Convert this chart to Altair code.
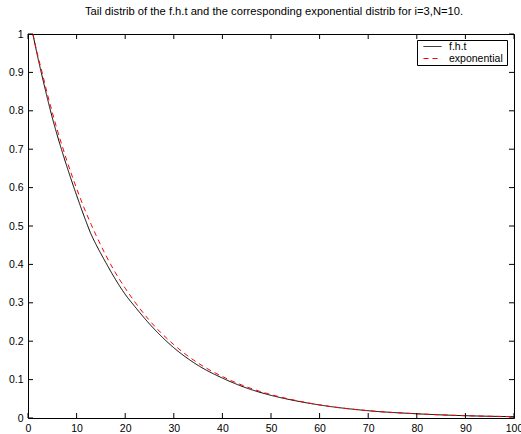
import altair as alt
import pandas as pd

# values
t_vals = [1, 2, 3, 4, 5, 6, 7, 8, 10, 12, 13, 14, 16, 18, 20, 22, 25, 30, 35, 40, 45, 50, 55, 60, 70, 80, 90, 100]
fht_vals = [1.0, 0.94, 0.885, 0.832, 0.782, 0.737, 0.695, 0.655, 0.58, 0.51, 0.478, 0.452, 0.405, 0.361,
            0.322, 0.29, 0.245, 0.183, 0.137, 0.104, 0.078, 0.059, 0.045, 0.034, 0.019, 0.011, 0.006, 0.0035]
exp_vals = [1.0, 0.945, 0.895, 0.843, 0.796, 0.751, 0.71, 0.67, 0.598, 0.533, 0.504, 0.476, 0.424, 0.378,
            0.338, 0.302, 0.254, 0.191, 0.143, 0.108, 0.081, 0.061, 0.046, 0.034, 0.019, 0.011, 0.006, 0.0035]
series_names = ["f.h.t", "exponential"]
x_ticks = [0, 10, 20, 30, 40, 50, 60, 70, 80, 90, 100]
y_ticks = [0, 0.1, 0.2, 0.3, 0.4, 0.5, 0.6, 0.7, 0.8, 0.9, 1]
title_text = "Tail distrib of the f.h.t and the corresponding exponential distrib for i=3,N=10."

W, H = 486, 384
FONT = "Liberation Sans"
FS = 10.5

rows = []
for t, a, b in zip(t_vals, fht_vals, exp_vals):
    rows.append({"x": t, "y": a, "series": series_names[0]})
    rows.append({"x": t, "y": b, "series": series_names[1]})
df = pd.DataFrame(rows)
xt = pd.DataFrame({"x": x_ticks})
yt = pd.DataFrame({"y": y_ticks})

xscale = alt.Scale(domain=[0, 100], nice=False, zero=False)
yscale = alt.Scale(domain=[0, 1], nice=False, zero=False)
xaxis = alt.Axis(values=x_ticks, ticks=False, domain=False, grid=False, labelFlush=False,
                 title=None, labelPadding=5, format="d")
yaxis = alt.Axis(values=y_ticks, ticks=False, domain=False, grid=False, labelFlush=False,
                 title=None, labelPadding=5,
                 labelExpr="datum.value == 0 ? '0' : datum.value == 1 ? '1' : format(datum.value, '.1f')")

leg = alt.Legend(title="\u00a0", titleOrient="right", titlePadding=3, titleFontSize=FS,
                 orient="none", legendX=389, legendY=6,
                 strokeColor="black", fillColor="white", padding=1,
                 symbolType="M-1.8,0H1.8", symbolSize=100, symbolStrokeWidth=1,
                 symbolStrokeColor=alt.ExprRef("scale('color', datum.value)"),
                 symbolOffset=9, labelFont=FONT, labelFontSize=FS, labelOffset=11,
                 rowPadding=1, offset=0)

lines = alt.Chart(df).mark_line(strokeWidth=1, interpolate="monotone").encode(
    x=alt.X("x:Q", scale=xscale, axis=xaxis),
    y=alt.Y("y:Q", scale=yscale, axis=yaxis),
    color=alt.Color("series:N", scale=alt.Scale(domain=series_names, range=["#000000", "#ff0000"]),
                    legend=leg),
    strokeDash=alt.StrokeDash("series:N", scale=alt.Scale(domain=series_names, range=[[1, 0], [5, 4]]),
                              legend=leg),
)

TL = 5
bottom_ticks = alt.Chart(xt).mark_rule(color="black", strokeWidth=1).encode(
    x=alt.X("x:Q", scale=xscale, axis=xaxis), y=alt.value(H), y2=alt.value(H - TL))
top_ticks = alt.Chart(xt).mark_rule(color="black", strokeWidth=1).encode(
    x=alt.X("x:Q", scale=xscale, axis=xaxis), y=alt.value(0), y2=alt.value(TL))
left_ticks = alt.Chart(yt).mark_rule(color="black", strokeWidth=1).encode(
    y=alt.Y("y:Q", scale=yscale, axis=yaxis), x=alt.value(0), x2=alt.value(TL))
right_ticks = alt.Chart(yt).mark_rule(color="black", strokeWidth=1).encode(
    y=alt.Y("y:Q", scale=yscale, axis=yaxis), x=alt.value(W), x2=alt.value(W - TL))

chart = alt.layer(lines, bottom_ticks, top_ticks, left_ticks, right_ticks).properties(
    width=W, height=H,
    title=alt.TitleParams(title_text, font=FONT, fontSize=11.2, fontWeight="normal",
                          color="black", offset=12, dx=3),
    autosize=alt.AutoSizeParams(type="none"),
    padding={"left": 28, "top": 34, "right": 7, "bottom": 16},
    background="white",
).configure_view(stroke="black", strokeWidth=1).configure_axis(
    labelFont=FONT, labelFontSize=FS, labelColor="black"
)

chart.save("out.html", embed_options={"renderer": "svg", "actions": False})
